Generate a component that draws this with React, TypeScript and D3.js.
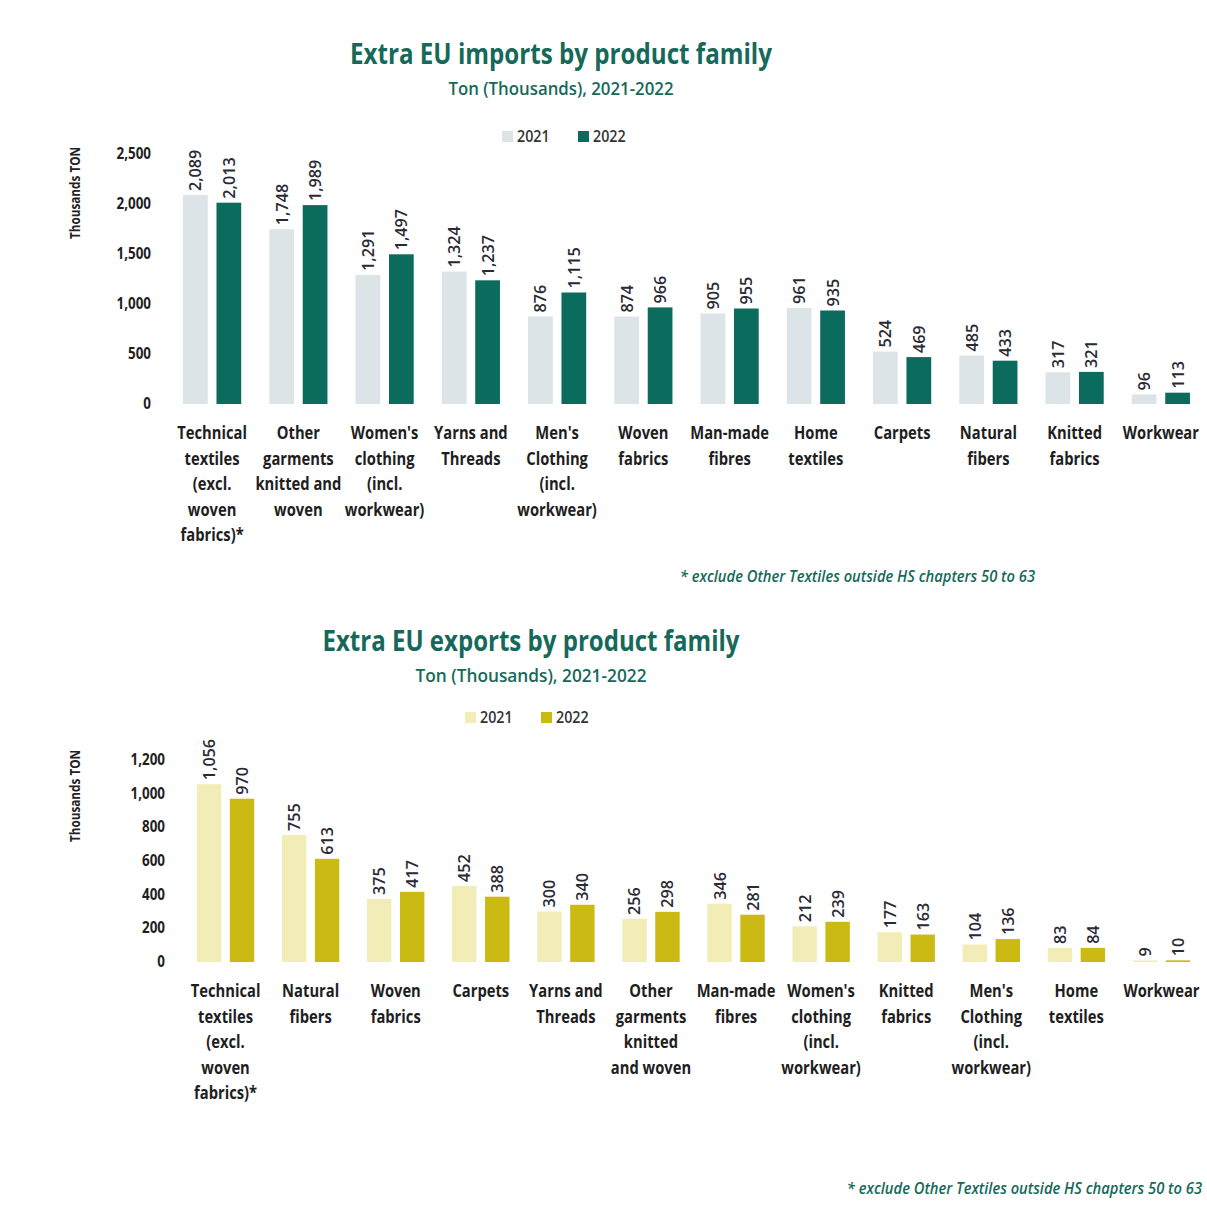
import React from "react";
import * as d3 from "d3";

const importCategories = [
  ["Technical", "textiles", "(excl.", "woven", "fabrics)*"],
  ["Other", "garments", "knitted and", "woven"],
  ["Women's", "clothing", "(incl.", "workwear)"],
  ["Yarns and", "Threads"],
  ["Men's", "Clothing", "(incl.", "workwear)"],
  ["Woven", "fabrics"],
  ["Man-made", "fibres"],
  ["Home", "textiles"],
  ["Carpets"],
  ["Natural", "fibers"],
  ["Knitted", "fabrics"],
  ["Workwear"],
];
const imports2021 = [2089, 1748, 1291, 1324, 876, 874, 905, 961, 524, 485, 317, 96];
const imports2022 = [2013, 1989, 1497, 1237, 1115, 966, 955, 935, 469, 433, 321, 113];
const importTicks = [0, 500, 1000, 1500, 2000, 2500];

const exportCategories = [
  ["Technical", "textiles", "(excl.", "woven", "fabrics)*"],
  ["Natural", "fibers"],
  ["Woven", "fabrics"],
  ["Carpets"],
  ["Yarns and", "Threads"],
  ["Other", "garments", "knitted", "and woven"],
  ["Man-made", "fibres"],
  ["Women's", "clothing", "(incl.", "workwear)"],
  ["Knitted", "fabrics"],
  ["Men's", "Clothing", "(incl.", "workwear)"],
  ["Home", "textiles"],
  ["Workwear"],
];
const exports2021 = [1056, 755, 375, 452, 300, 256, 346, 212, 177, 104, 83, 9];
const exports2022 = [970, 613, 417, 388, 340, 298, 281, 239, 163, 136, 84, 10];
const exportTicks = [0, 200, 400, 600, 800, 1000, 1200];

const years = ["2021", "2022"];
const FONT = "'Open Sans', 'Noto Sans', sans-serif";
const GREEN = "#16695a";
const fmt = d3.format(",");
const SX = 0.84;

function CText({ x, y, anchor = "middle", size = 14, weight = 600, fill = "#1e1e1e", rotate = 0, sx = SX, italic = false, children }: any) {
  return (
    <text
      transform={`translate(${x},${y}) rotate(${rotate}) scale(${sx},1)`}
      textAnchor={anchor}
      fontFamily={FONT}
      fontSize={size}
      fontWeight={weight}
      fontStyle={italic ? "italic" : "normal"}
      fill={fill}
    >
      {children}
    </text>
  );
}

function Panel({ cfg }: any) {
  const { categories, v2021, v2022, ticks, yMax, x0, x1, yBase, yTop, colors, title, subtitle, titleY, titleX, titleW, subY, subW, legendY, legendX, footX, footY, tickX, axisTitleY, labelY0 } = cfg;
  const xScale = d3.scaleBand<number>().domain(d3.range(categories.length)).range([x0, x1]).paddingInner(0).paddingOuter(0);
  const yScale = d3.scaleLinear().domain([0, yMax]).range([yBase, yTop]);
  const sub = d3.scaleBand<string>().domain(years).range([0, xScale.bandwidth()]).paddingInner(0.26).paddingOuter(0.42);
  const series = [v2021, v2022];
  return (
    <g>
      <text x={titleX} y={titleY} textAnchor="middle" fontFamily={FONT} fontSize={29} fontWeight={700} fill={GREEN} textLength={titleW} lengthAdjust="spacingAndGlyphs">{title}</text>
      <text x={titleX} y={subY} textAnchor="middle" fontFamily={FONT} fontSize={18} fontWeight={600} fill={GREEN} textLength={subW} lengthAdjust="spacingAndGlyphs">{subtitle}</text>
      {years.map((yr, i) => (
        <g key={yr}>
          <rect x={legendX[i]} y={legendY - 11} width={11} height={11} fill={colors[i]} />
          <CText x={legendX[i] + 15} y={legendY} anchor="start" size={17} weight={600} fill="#333">{yr}</CText>
        </g>
      ))}
      <CText x={80} y={axisTitleY} rotate={-90} size={14} weight={700} fill="#222">Thousands TON</CText>
      {ticks.map((t: number) => (
        <CText key={t} x={tickX} y={yScale(t) + 5} anchor="end" size={16} weight={700} fill="#1e1e1e">{fmt(t)}</CText>
      ))}
      {categories.map((lines: string[], i: number) => {
        const bx = xScale(i)!;
        return (
          <g key={i}>
            {series.map((vals: number[], s: number) => {
              const x = bx + sub(years[s])!;
              const w = sub.bandwidth();
              const y = yScale(vals[i]);
              return (
                <g key={s}>
                  <rect x={x} y={y} width={w} height={yBase - y} fill={colors[s]} />
                  <CText x={x + w / 2 + 6} y={y - 4} anchor="start" rotate={-90} size={17} weight={600} sx={0.95} fill="#2a2a35">{fmt(vals[i])}</CText>
                </g>
              );
            })}
            {lines.map((ln, j) => (
              <CText key={j} x={bx + xScale.bandwidth() / 2} y={labelY0 + j * 25.5} size={18} weight={700} sx={0.82} fill="#1e1e1e">{ln}</CText>
            ))}
          </g>
        );
      })}
      <CText x={footX} y={footY} anchor="end" size={16} weight={600} italic sx={0.92} fill={GREEN}>* exclude Other Textiles outside HS chapters 50 to 63</CText>
    </g>
  );
}

export default function App() {
  const top = {
    categories: importCategories, v2021: imports2021, v2022: imports2022, ticks: importTicks, yMax: 2500,
    x0: 169, x1: 1204, yBase: 404, yTop: 154,
    colors: ["#dce4e7", "#0b6b5d"],
    title: "Extra EU imports by product family", subtitle: "Ton (Thousands), 2021-2022",
    titleX: 561, titleY: 64, titleW: 422, subY: 95, subW: 225,
    legendY: 142, legendX: [502, 578],
    footX: 1035, footY: 582,
    tickX: 151, axisTitleY: 193, labelY0: 439,
  };
  const bottom = {
    categories: exportCategories, v2021: exports2021, v2022: exports2022, ticks: exportTicks, yMax: 1200,
    x0: 183, x1: 1204, yBase: 962, yTop: 760,
    colors: ["#f2edb6", "#cbb914"],
    title: "Extra EU exports by product family", subtitle: "Ton (Thousands),  2021-2022",
    titleX: 531, titleY: 651, titleW: 417, subY: 682, subW: 231,
    legendY: 723, legendX: [465, 541],
    footX: 1202, footY: 1194,
    tickX: 165, axisTitleY: 796, labelY0: 997,
  };
  return (
    <svg width={1207} height={1209} style={{ position: "absolute", left: 0, top: 0, background: "#fff" }}>
      <rect width={1207} height={1209} fill="#fff" />
      <Panel cfg={top} />
      <Panel cfg={bottom} />
    </svg>
  );
}
